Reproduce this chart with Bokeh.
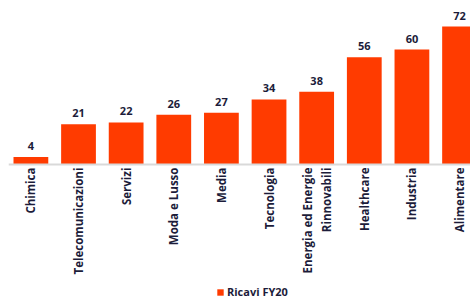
from bokeh.plotting import figure
from bokeh.models import ColumnDataSource, Legend, LegendItem, FixedTicker, Range1d
from bokeh.core.properties import value
from bokeh.embed import file_html
from bokeh.resources import INLINE
import math

categories = ["Chimica", "Telecomunicazioni", "Servizi", "Moda e Lusso", "Media",
              "Tecnologia", "Energia ed Energie\nRinnovabili", "Healthcare", "Industria", "Alimentare"]
ricavi_fy20 = [4, 21, 22, 26, 27, 34, 38, 56, 60, 72]
series_name = "Ricavi FY20"

BAR = "#FF3B00"
TXT = "#1C1C3A"
FONT = "Open Sans"

xs = list(range(len(categories)))
src = ColumnDataSource(dict(x=xs, y=ricavi_fy20, lbl=[str(v) for v in ricavi_fy20]))

p = figure(frame_width=462, frame_height=292, output_backend="svg", toolbar_location=None,
           x_range=Range1d(-0.47, 9.23), y_range=Range1d(-70.9, 81.4),
           min_border_left=8, min_border_right=0, min_border_top=8, min_border_bottom=0)
p.outline_line_color = None
p.grid.visible = False
p.yaxis.visible = False

r = p.vbar(x="x", top="y", width=0.73, source=src, fill_color=BAR, line_color=None)
p.text(x="x", y="y", text="lbl", source=src, text_align="center", text_baseline="bottom",
       y_offset=-7, text_font=value(FONT), text_font_style="bold", text_font_size="11px",
       text_color=TXT)

ax = p.xaxis[0]
ax.fixed_location = 0
ax.ticker = FixedTicker(ticks=xs)
ax.major_label_overrides = {i: c for i, c in enumerate(categories)}
ax.major_label_orientation = math.pi / 2
ax.major_label_text_font = FONT
ax.major_label_text_font_style = "bold"
ax.major_label_text_font_size = "11.5px"
ax.major_label_text_color = TXT
ax.major_label_text_line_height = 1.25
ax.major_label_standoff = 3
ax.major_tick_line_color = None
ax.minor_tick_line_color = None
ax.major_tick_out = 0
ax.major_tick_in = 0
ax.axis_line_color = "#D9D9D9"
ax.axis_line_width = 2

legend = Legend(items=[LegendItem(label=series_name, renderers=[r])], location=(208, 1),
                orientation="horizontal", border_line_color=None, background_fill_alpha=0,
                label_text_font=FONT, label_text_font_style="bold", label_text_font_size="11px",
                label_text_color=TXT, glyph_width=8, glyph_height=8, padding=0, margin=0,
                label_standoff=3, label_height=10, spacing=0)
p.add_layout(legend, "center")

open("out.html", "w").write(file_html(p, INLINE))
